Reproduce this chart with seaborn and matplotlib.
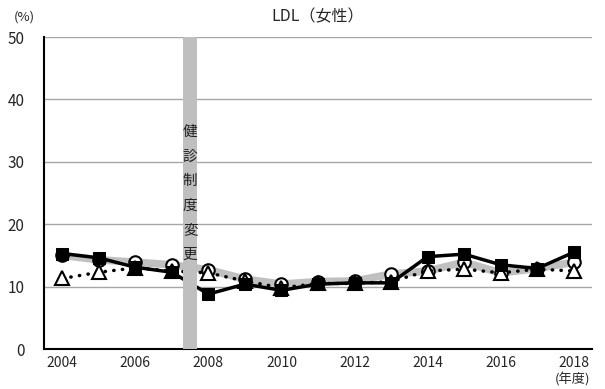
import matplotlib
matplotlib.use("Agg")
import matplotlib.pyplot as plt
import seaborn as sns
import pandas as pd

years = [2004, 2005, 2006, 2007, 2008, 2009, 2010, 2011, 2012, 2013, 2014, 2015, 2016, 2017, 2018]
series_square = [15.3, 14.6, 13.1, 12.3, 8.8, 10.4, 9.4, 10.4, 10.6, 10.6, 14.8, 15.2, 13.5, 12.9, 15.5]
series_circle = [15.0, 14.3, 13.9, 13.5, 12.7, 11.2, 10.4, 10.8, 10.9, 12.0, 12.5, 13.9, 12.2, 12.9, 13.9]
series_triangle = [11.3, 12.3, 13.0, 12.5, 12.2, 10.9, 9.8, 10.5, 10.5, 10.8, 12.5, 12.8, 12.2, 12.8, 12.5]
yticks = [0, 10, 20, 30, 40, 50]
band_text = "健診制度変更"

sns.set_theme(style="white")
plt.rcParams['font.family'] = ['Noto Sans CJK JP', 'DejaVu Sans']

fig = plt.figure(figsize=(6.05, 3.89), dpi=100)
ax = fig.add_axes([44/605, 1-349/389, (592-44)/605, (349-37)/389])

pos = list(range(len(years)))
df = pd.DataFrame({"pos": pos, "sq": series_square, "ci": series_circle, "tr": series_triangle})

sns.lineplot(data=df, x="pos", y="ci", ax=ax, color="#c0c0c0", lw=5.5, zorder=2,
             marker="o", markersize=9, markerfacecolor="white", markeredgecolor="black",
             markeredgewidth=1.5)
sns.lineplot(data=df, x="pos", y="tr", ax=ax, color="black", lw=2.5, zorder=3,
             linestyle=(0, (0.1, 2.4)),
             marker="^", markersize=10, markerfacecolor="white", markeredgecolor="black",
             markeredgewidth=1.5)
ax.lines[-1].set_dash_capstyle("round")
sns.lineplot(data=df, x="pos", y="sq", ax=ax, color="black", lw=2.5, zorder=4,
             marker="s", markersize=9, markerfacecolor="black", markeredgecolor="black")

ax.axvspan(3.3, 3.7, color="#bfbfbf", zorder=5, lw=0)
ax.text(3.5, 24.9, "\n".join(band_text), ha="center", va="center", fontsize=10.5,
        linespacing=1.95, zorder=6, color="#222222")

ax.set_xlim(-0.5, len(years) - 0.5)
ax.set_ylim(0, 50)
ax.set_yticks(yticks)
ax.set_yticklabels([str(v) for v in yticks], fontsize=11)
ax.yaxis.grid(True, color="#a6a6a6", lw=1)
ax.set_axisbelow(True)

ax.set_xticks(pos[::2])
ax.set_xticklabels([str(y) for y in years[::2]], fontsize=10)
ax.set_xticks([p + 0.5 for p in pos], minor=True)
ax.tick_params(axis="x", which="major", length=0, pad=5)
ax.tick_params(axis="x", which="minor", direction="in", length=4, width=1.2, color="black")
ax.tick_params(axis="y", length=0, pad=14)

for s in ["top", "right"]:
    ax.spines[s].set_visible(False)
for s in ["left", "bottom"]:
    ax.spines[s].set_color("black")
    ax.spines[s].set_linewidth(1.5)

ax.set_xlabel("")
ax.set_ylabel("")

fig.text(318/605, 1-17/389, "LDL（女性）", ha="center", va="center", fontsize=11.5)
fig.text(24/605, 1-17/389, "(%)", ha="center", va="center", fontsize=9.5)
fig.text(572/605, 1-379/389, "(年度)", ha="center", va="center", fontsize=9.5)

fig.savefig("out.png", dpi=100)
